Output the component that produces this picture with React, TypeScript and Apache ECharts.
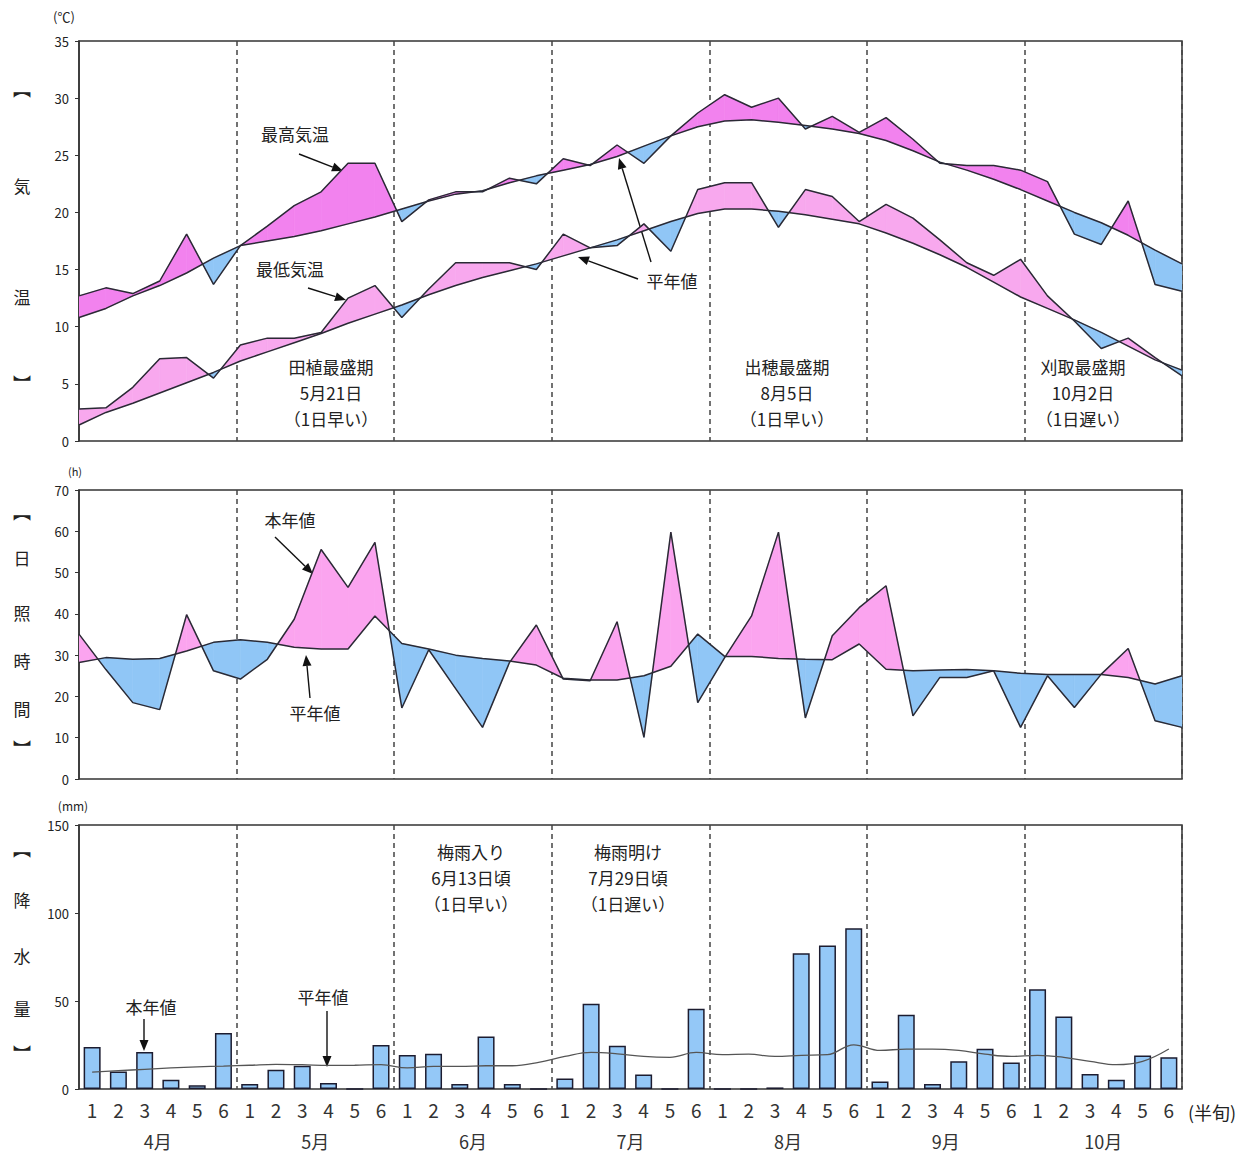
import React, { useEffect, useRef } from "react";
import * as echarts from "echarts";

const months = ["4月", "5月", "6月", "7月", "8月", "9月", "10月"];
const halfLabels = ["1", "2", "3", "4", "5", "6"];

const maxTemp = [12.7, 13.4, 12.9, 14.0, 18.1, 13.7, 17.1, 18.8, 20.6, 21.8, 24.3, 24.3, 19.2, 21.1, 21.8, 21.8, 23.0, 22.5, 24.7, 24.1, 25.9, 24.3, 26.7, 28.7, 30.3, 29.2, 30.0, 27.3, 28.4, 27.0, 28.3, 26.4, 24.3, 24.1, 24.1, 23.7, 22.7, 18.1, 17.2, 21.0, 13.7, 13.1];
const maxNormal = [10.8, 11.6, 12.7, 13.6, 14.7, 16.0, 17.1, 17.5, 17.9, 18.4, 19.0, 19.6, 20.3, 21.0, 21.6, 21.9, 22.6, 23.2, 23.7, 24.2, 24.9, 25.8, 26.7, 27.5, 28.0, 28.1, 27.9, 27.6, 27.3, 26.9, 26.3, 25.4, 24.4, 23.7, 22.9, 22.0, 21.0, 20.0, 19.1, 18.0, 16.7, 15.5];
const minTemp = [2.8, 2.9, 4.7, 7.2, 7.3, 5.5, 8.4, 9.0, 9.0, 9.5, 12.5, 13.6, 10.8, 13.3, 15.6, 15.6, 15.6, 15.0, 18.1, 16.9, 17.1, 19.0, 16.6, 22.0, 22.6, 22.6, 18.7, 22.0, 21.4, 19.2, 20.7, 19.5, 17.6, 15.6, 14.5, 15.9, 12.7, 10.5, 8.1, 9.0, 7.3, 5.7];
const minNormal = [1.4, 2.5, 3.3, 4.2, 5.1, 6.0, 7.0, 7.8, 8.6, 9.4, 10.3, 11.1, 11.9, 12.8, 13.6, 14.3, 14.9, 15.5, 16.2, 16.9, 17.6, 18.4, 19.2, 19.9, 20.3, 20.3, 20.1, 19.8, 19.4, 19.0, 18.2, 17.3, 16.3, 15.2, 13.9, 12.6, 11.6, 10.6, 9.5, 8.3, 7.1, 6.2];

const sunshine = [35.1, 26.5, 18.5, 16.8, 39.8, 26.2, 24.2, 29.0, 38.7, 55.6, 46.4, 57.3, 17.2, 31.3, 21.9, 12.5, 28.2, 37.3, 24.2, 23.8, 38.1, 10.1, 59.8, 18.5, 29.4, 39.5, 59.8, 14.8, 34.7, 41.5, 46.8, 15.3, 24.6, 24.6, 26.2, 12.5, 25.0, 17.3, 25.4, 31.6, 14.1, 12.5];
const sunshineNormal = [28.2, 29.4, 29.0, 29.2, 31.0, 33.1, 33.7, 33.1, 31.9, 31.5, 31.5, 39.5, 32.8, 31.5, 30.0, 29.2, 28.6, 27.6, 24.4, 24.0, 24.0, 25.0, 27.3, 35.1, 29.7, 29.7, 29.2, 29.0, 28.9, 32.7, 26.6, 26.2, 26.4, 26.5, 26.2, 25.6, 25.3, 25.3, 25.3, 24.6, 23.0, 25.0];

const precip = [23.8, 10.0, 21.0, 5.3, 2.1, 31.8, 2.8, 11.0, 13.2, 3.4, 0, 25.0, 19.3, 20.0, 2.8, 29.9, 2.8, 0, 6.0, 48.4, 24.6, 8.3, 0, 45.6, 0, 0, 0.9, 77.1, 81.5, 91.3, 4.3, 42.2, 2.8, 15.7, 22.9, 15.1, 56.7, 41.2, 8.5, 5.3, 19.1, 18.1];
const precipNormal = [9.6, 10.4, 11.2, 12.0, 12.6, 13.0, 13.5, 14.0, 13.8, 13.4, 13.5, 13.8, 12.0, 12.9, 12.9, 13.2, 13.2, 15.1, 18.5, 20.8, 20.0, 18.5, 18.0, 20.8, 19.5, 19.8, 18.5, 19.1, 19.5, 25.1, 21.9, 22.7, 22.7, 21.9, 19.8, 18.5, 19.1, 18.0, 15.7, 13.8, 15.7, 22.7];

const FONT = "'Noto Sans CJK JP', 'Noto Sans', sans-serif";
const PINK_MAX = "#f282ee";
const PINK_MIN = "#f8a8ee";
const PINK_SUN = "#fba4ef";
const BLUE = "#90c6f6";
const LINE = "#2a2a35";

const N = maxTemp.length;
const categories = Array.from({ length: N }, (_, i) => halfLabels[i % 6]);

function pairs(actual: number[], normal: number[]) {
  const out: number[][] = [];
  for (let i = 0; i < actual.length - 1; i++) {
    out.push([i, actual[i], normal[i], actual[i + 1], normal[i + 1]]);
  }
  return out;
}

function makeFillRender(up: string, down: string) {
  return (params: any, api: any) => {
    const i = api.value(0);
    const a0 = api.value(1), n0 = api.value(2), a1 = api.value(3), n1 = api.value(4);
    const P = (x: number, y: number) => api.coord([x, y]);
    const d0 = a0 - n0, d1 = a1 - n1;
    const children: any[] = [];
    const poly = (pts: number[][], color: string) =>
      children.push({ type: "polygon", shape: { points: pts }, style: { fill: color, stroke: color, lineWidth: 0.6 } });
    if (d0 * d1 >= 0) {
      poly([P(i, a0), P(i + 1, a1), P(i + 1, n1), P(i, n0)], d0 + d1 >= 0 ? up : down);
    } else {
      const t = d0 / (d0 - d1);
      const x = i + t;
      const y = a0 + t * (a1 - a0);
      poly([P(i, a0), P(x, y), P(i, n0)], d0 > 0 ? up : down);
      poly([P(x, y), P(i + 1, a1), P(i + 1, n1)], d1 > 0 ? up : down);
    }
    return { type: "group", children };
  };
}

function xy(arr: number[]) {
  return arr.map((v, i) => [i, v]);
}

function arrow(x1: number, y1: number, x2: number, y2: number) {
  const ang = Math.atan2(y2 - y1, x2 - x1);
  const L = 11, W = 4.5;
  const bx = x2 - L * Math.cos(ang), by = y2 - L * Math.sin(ang);
  const px = -Math.sin(ang) * W, py = Math.cos(ang) * W;
  return [
    { type: "line", shape: { x1, y1, x2: bx, y2: by }, style: { stroke: "#111", lineWidth: 1.4 } },
    { type: "polygon", shape: { points: [[x2, y2], [bx + px, by + py], [bx - px, by - py]] }, style: { fill: "#111" } },
  ];
}

function txt(x: number, y: number, text: string, size = 17, extra: any = {}) {
  return {
    type: "text",
    x, y,
    style: { text, fill: "#222", font: `${size}px ${FONT}`, align: "center", verticalAlign: "middle", lineHeight: 26, ...extra },
  };
}

const lineSeries = (name: string, data: number[], xi: number, yi: number) => ({
  name,
  type: "line",
  xAxisIndex: xi,
  yAxisIndex: yi,
  data: xy(data),
  symbol: "none",
  lineStyle: { color: LINE, width: 1.5 },
  z: 5,
});

export default function App() {
  const ref = useRef<HTMLDivElement>(null);
  useEffect(() => {
    if (!ref.current) return;
    const chart = echarts.init(ref.current, undefined, { renderer: "svg" });
    const grids = [
      { left: 79, right: 68, top: 41, height: 400 },
      { left: 79, right: 68, top: 490, height: 289 },
      { left: 79, right: 68, top: 825, height: 264 },
    ].map((g) => ({ ...g, show: true, borderColor: "#333", borderWidth: 1.5, backgroundColor: "#fff" }));

    const dividerAxis = (gridIndex: number, showLabels: boolean) => ({
      type: "category",
      gridIndex,
      data: months,
      boundaryGap: true,
      position: "bottom",
      offset: showLabels ? 34 : 0,
      axisLine: { show: false },
      axisTick: { show: false },
      axisLabel: showLabels
        ? { show: true, interval: 0, fontSize: 18, fontFamily: FONT, color: "#333", margin: 9 }
        : { show: false },
      splitLine: {
        show: true,
        interval: (idx: number) => idx > 0,
        lineStyle: { color: "#444", width: 1.5, type: [5, 4] },
      },
    });

    const valueX = (gridIndex: number) => ({
      type: "value",
      gridIndex,
      min: 0,
      max: N - 1,
      show: false,
      splitLine: { show: false },
    });

    const yAx = (gridIndex: number, max: number, interval: number) => ({
      type: "value",
      gridIndex,
      min: 0,
      max,
      interval,
      axisLine: { show: true, lineStyle: { color: "#333", width: 1.5 } },
      axisTick: { show: true, length: 4, lineStyle: { color: "#333" } },
      axisLabel: { fontSize: 13, fontFamily: FONT, color: "#222", margin: 10 },
      splitLine: { show: false },
    });

    const graphics: any[] = [
      txt(64, 16, "(℃)", 13),
      txt(75, 471, "(h)", 11),
      txt(73, 805, "(mm)", 12),
      txt(1212, 1112, "(半旬)", 18),
      // vertical axis titles
      txt(22, 88, "︻", 18), txt(22, 185, "気", 17), txt(22, 296, "温", 17), txt(22, 383, "︼", 18),
      txt(22, 511, "︻", 18), txt(22, 557, "日", 17), txt(22, 612, "照", 17), txt(22, 660, "時", 17), txt(22, 708, "間", 17), txt(22, 748, "︼", 18),
      txt(22, 848, "︻", 18), txt(22, 899, "降", 17), txt(22, 955, "水", 17), txt(22, 1008, "量", 17), txt(22, 1053, "︼", 18),
      // top panel annotations
      txt(295, 133, "最高気温", 17),
      ...arrow(299, 154, 343, 171),
      txt(290, 268, "最低気温", 17),
      ...arrow(308, 288, 346, 300),
      txt(672, 280, "平年値", 17),
      ...arrow(651, 262, 619, 158),
      ...arrow(638, 279, 578, 257),
      txt(331, 392, "田植最盛期\n5月21日\n（1日早い）", 17),
      txt(787, 392, "出穂最盛期\n8月5日\n（1日早い）", 17),
      txt(1083, 392, "刈取最盛期\n10月2日\n（1日遅い）", 17),
      // sunshine annotations
      txt(290, 519, "本年値", 17),
      ...arrow(275, 537, 313, 574),
      txt(315, 712, "平年値", 17),
      ...arrow(310, 698, 306, 655),
      // precip annotations
      txt(151, 1006, "本年値", 17),
      ...arrow(144, 1019, 144, 1051),
      txt(323, 996, "平年値", 17),
      ...arrow(327, 1011, 327, 1067),
      txt(471, 877, "梅雨入り\n6月13日頃\n（1日早い）", 17),
      txt(628, 877, "梅雨明け\n7月29日頃\n（1日遅い）", 17),
    ];

    chart.setOption({
      animation: false,
      backgroundColor: "#fff",
      textStyle: { fontFamily: FONT },
      grid: grids,
      xAxis: [
        valueX(0),
        dividerAxis(0, false),
        valueX(1),
        dividerAxis(1, false),
        {
          type: "category",
          gridIndex: 2,
          data: categories,
          boundaryGap: true,
          position: "bottom",
          axisLine: { show: false },
          axisTick: { show: false },
          axisLabel: { show: true, interval: 0, fontSize: 19, fontFamily: FONT, color: "#333", margin: 11 },
          splitLine: { show: false },
        },
        dividerAxis(2, true),
      ],
      yAxis: [yAx(0, 35, 5), yAx(1, 70, 10), yAx(2, 150, 50)],
      series: [
        {
          type: "custom",
          xAxisIndex: 0,
          yAxisIndex: 0,
          renderItem: makeFillRender(PINK_MAX, BLUE),
          data: pairs(maxTemp, maxNormal),
          encode: { x: 0, y: [1, 2] },
          clip: true,
          z: 3,
        },
        {
          type: "custom",
          xAxisIndex: 0,
          yAxisIndex: 0,
          renderItem: makeFillRender(PINK_MIN, BLUE),
          data: pairs(minTemp, minNormal),
          encode: { x: 0, y: [1, 2] },
          clip: true,
          z: 3,
        },
        lineSeries("最高気温", maxTemp, 0, 0),
        lineSeries("最高気温平年値", maxNormal, 0, 0),
        lineSeries("最低気温", minTemp, 0, 0),
        lineSeries("最低気温平年値", minNormal, 0, 0),
        {
          type: "custom",
          xAxisIndex: 2,
          yAxisIndex: 1,
          renderItem: makeFillRender(PINK_SUN, BLUE),
          data: pairs(sunshine, sunshineNormal),
          encode: { x: 0, y: [1, 2] },
          clip: true,
          z: 3,
        },
        lineSeries("日照時間", sunshine, 2, 1),
        lineSeries("日照時間平年値", sunshineNormal, 2, 1),
        {
          name: "降水量",
          type: "bar",
          xAxisIndex: 4,
          yAxisIndex: 2,
          data: precip,
          barWidth: 17,
          itemStyle: { color: "#94c8f7", borderColor: "#1c1c30", borderWidth: 1.5 },
          z: 3,
        },
        {
          name: "降水量平年値",
          type: "line",
          xAxisIndex: 4,
          yAxisIndex: 2,
          data: precipNormal,
          smooth: 0.4,
          symbol: "none",
          lineStyle: { color: "#555", width: 1.3 },
          z: 5,
        },
      ],
      graphic: graphics,
    });
    return () => chart.dispose();
  }, []);
  return (
    <div
      ref={ref}
      style={{ position: "fixed", left: 0, top: 0, width: 1250, height: 1156, background: "#fff" }}
    />
  );
}
